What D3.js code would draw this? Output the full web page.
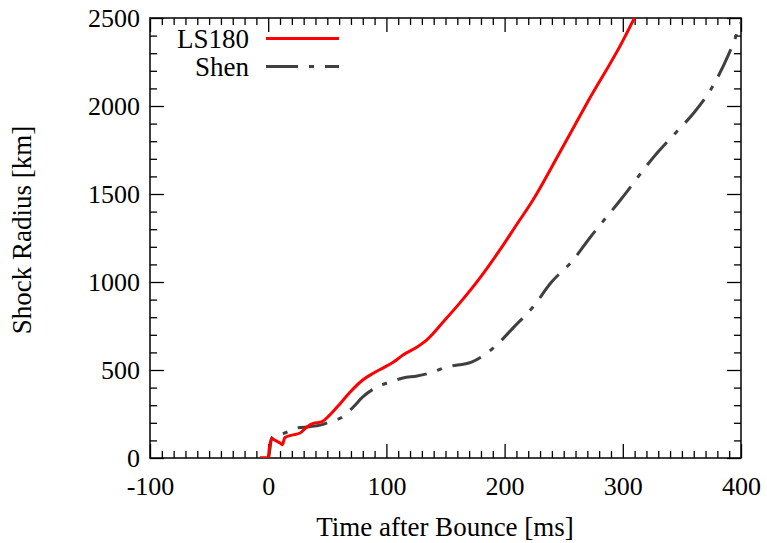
<!DOCTYPE html>
<html>
<head>
<meta charset="utf-8">
<script src="https://cdn.jsdelivr.net/npm/d3@7"></script>
</head>
<body style="margin:0">
<svg id="chart" width="767" height="543"></svg>
<script>
// Shock radius evolution after core bounce for two equations of state
const timeLS180 = [-7, 0, 1, 3, 6, 10, 12, 14, 20, 27, 33, 38, 45, 52, 61, 69, 80, 89, 97, 106, 114, 126, 134, 148, 162, 179, 196, 210, 224, 247, 270, 300, 312];
const radiusLS180 = [0, 0, 60, 110, 100, 85, 75, 115, 130, 142, 178, 197, 205, 244, 310, 372, 443, 482, 511, 545, 585, 631, 670, 773, 880, 1022, 1182, 1324, 1466, 1740, 2020, 2370, 2530];

const timeShen = [-7, 0, 3, 6, 13, 24, 35, 44, 52, 62, 72, 80, 92, 103, 114, 126, 137, 151, 172, 185, 196, 207, 224, 239, 258, 272, 298, 329, 345, 360, 375, 390, 401];
const radiusShen = [0, 0, 114, 130, 140, 170, 178, 187, 205, 230, 290, 347, 403, 432, 455, 466, 483, 517, 545, 596, 660, 738, 858, 994, 1125, 1250, 1466, 1733, 1850, 1960, 2100, 2300, 2490];

const xMajorTicks = [-100, 0, 100, 200, 300, 400];
const yMajorTicks = [0, 500, 1000, 1500, 2000, 2500];
const seriesNames = ["LS180", "Shen"];
const seriesColors = ["#ff0000", "#404040"];
const xTitle = "Time after Bounce [ms]";
const yTitle = "Shock Radius [km]";

const FONT = "Liberation Serif";
const svg = d3.select("#chart");
const W = 767, H = 543;
const m = { left: 150, right: 26, top: 18, bottom: 85 };
const iw = W - m.left - m.right, ih = H - m.top - m.bottom;

const x = d3.scaleLinear().domain([-100, 400]).range([0, iw]);
const y = d3.scaleLinear().domain([0, 2500]).range([ih, 0]);

const g = svg.append("g").attr("transform", `translate(${m.left},${m.top})`);

g.append("defs").append("clipPath").attr("id", "plotClip")
  .append("rect").attr("x", 0).attr("y", 0).attr("width", iw).attr("height", ih);

const xMinor = d3.range(-100, 401, 10).filter(v => v % 100 !== 0);
const yMinor = d3.range(0, 2501, 100).filter(v => v % 500 !== 0);

const MAJ = 14, MIN = 7;
const tickFont = 26;
const plainNumber = d => String(d);   // ASCII hyphen for negatives

function styleAxis(sel) {
  sel.attr("font-family", null).attr("font-size", null).attr("text-anchor", null);
  sel.select(".domain").remove();
  sel.selectAll(".tick line").attr("stroke", "#000").attr("stroke-width", 1.3);
}

// anchor a label by its measured width instead of text-anchor
function place(sel, frac) {
  sel.each(function () {
    const t = d3.select(this);
    const w = this.getComputedTextLength();
    t.attr("x", (+t.attr("x") || 0) - w * frac);
  });
}

// bottom axis with labels
const xAxisG = g.append("g").attr("transform", `translate(0,${ih})`)
  .call(d3.axisBottom(x).tickValues(xMajorTicks).tickSize(-MAJ).tickPadding(19).tickFormat(plainNumber))
  .call(styleAxis);
xAxisG.selectAll("text").attr("font-size", tickFont).attr("font-family", FONT).attr("fill", "#000").call(place, 0.5);
g.append("g").attr("transform", `translate(0,${ih})`)
  .call(d3.axisBottom(x).tickValues(xMinor).tickSize(-MIN).tickFormat(""))
  .call(styleAxis);
// top mirror
g.append("g")
  .call(d3.axisTop(x).tickValues(xMajorTicks).tickSize(-MAJ).tickFormat(""))
  .call(styleAxis);
g.append("g")
  .call(d3.axisTop(x).tickValues(xMinor).tickSize(-MIN).tickFormat(""))
  .call(styleAxis);
// left axis with labels
const yAxisG = g.append("g")
  .call(d3.axisLeft(y).tickValues(yMajorTicks).tickSize(-MAJ).tickPadding(10).tickFormat(plainNumber))
  .call(styleAxis);
yAxisG.selectAll("text").attr("font-size", tickFont).attr("font-family", FONT).attr("fill", "#000").call(place, 1);
g.append("g")
  .call(d3.axisLeft(y).tickValues(yMinor).tickSize(-MIN).tickFormat(""))
  .call(styleAxis);
// right mirror
g.append("g").attr("transform", `translate(${iw},0)`)
  .call(d3.axisRight(y).tickValues(yMajorTicks).tickSize(-MAJ).tickFormat(""))
  .call(styleAxis);
g.append("g").attr("transform", `translate(${iw},0)`)
  .call(d3.axisRight(y).tickValues(yMinor).tickSize(-MIN).tickFormat(""))
  .call(styleAxis);

// frame
g.append("rect").attr("x", 0).attr("y", 0).attr("width", iw).attr("height", ih)
  .attr("fill", "none").attr("stroke", "#000").attr("stroke-width", 1.5);

// curves
const line = d3.line().x(d => x(d[0])).y(d => y(d[1])).curve(d3.curveMonotoneX);
const dataLS = timeLS180.map((t, i) => [t, radiusLS180[i]]);
const dataShen = timeShen.map((t, i) => [t, radiusShen[i]]);

const plot = g.append("g").attr("clip-path", "url(#plotClip)");
plot.append("path").datum(dataShen).attr("d", line)
  .attr("fill", "none").attr("stroke", seriesColors[1]).attr("stroke-width", 3)
  .attr("stroke-dasharray", "30,11,5,11");
plot.append("path").datum(dataLS).attr("d", line)
  .attr("fill", "none").attr("stroke", seriesColors[0]).attr("stroke-width", 3);

// legend
const legendRows = [
  { name: seriesNames[0], color: seriesColors[0], dash: null, yLine: 38.5, yText: 47.5 },
  { name: seriesNames[1], color: seriesColors[1], dash: "32,11,5,11", yLine: 66.5, yText: 75.5 }
];
svg.selectAll("text.legend").data(legendRows).join("text").attr("class", "legend")
  .attr("x", 249).attr("y", d => d.yText)
  .attr("font-size", 27).attr("font-family", FONT).text(d => d.name)
  .call(place, 1);
svg.selectAll("line.legend").data(legendRows).join("line").attr("class", "legend")
  .attr("x1", 266).attr("x2", 339).attr("y1", d => d.yLine).attr("y2", d => d.yLine)
  .attr("stroke", d => d.color).attr("stroke-width", 3).attr("stroke-dasharray", d => d.dash);

// axis titles
svg.append("text").attr("x", 445).attr("y", 536)
  .attr("font-size", 27).attr("font-family", FONT).text(xTitle)
  .call(place, 0.5);
svg.append("text").attr("transform", "translate(31,230) rotate(-90)")
  .attr("font-size", 27).attr("font-family", FONT).text(yTitle)
  .call(place, 0.5);
</script>
</body>
</html>
